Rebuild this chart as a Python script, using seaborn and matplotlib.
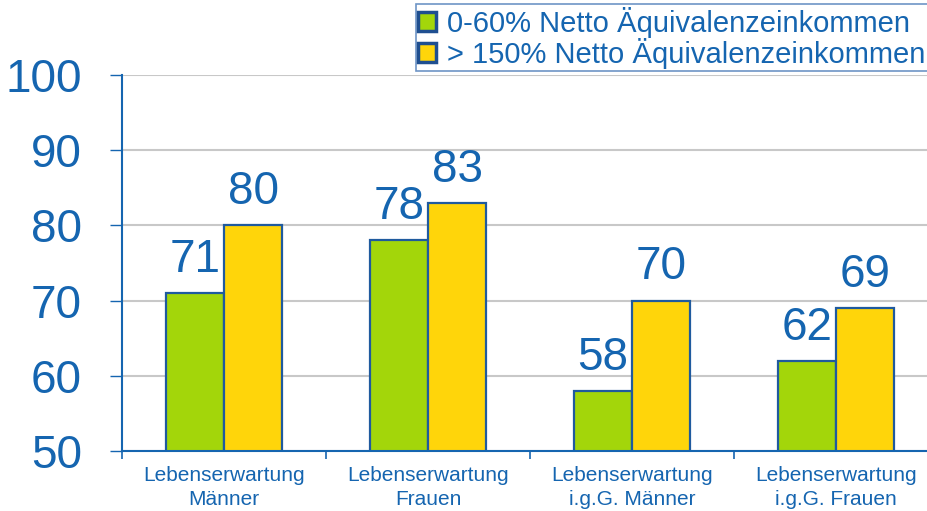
import matplotlib
matplotlib.use("Agg")
import matplotlib.pyplot as plt
import seaborn as sns
import pandas as pd
from matplotlib.patches import Patch

categories = ["Lebenserwartung\nMänner", "Lebenserwartung\nFrauen",
              "Lebenserwartung\ni.g.G. Männer", "Lebenserwartung\ni.g.G. Frauen"]
series_names = ["0-60% Netto Äquivalenzeinkommen", "> 150% Netto Äquivalenzeinkommen"]
low_income = [71, 78, 58, 62]
high_income = [80, 83, 70, 69]
y_ticks = [50, 60, 70, 80, 90, 100]

colors = ["#A3D60A", "#FFD50A"]
blue = "#1565B0"
edge = "#1F5A9E"

df = pd.DataFrame({
    "cat": categories * 2,
    "val": low_income + high_income,
    "series": [series_names[0]] * 4 + [series_names[1]] * 4,
})

sns.set_theme(style="white")
plt.rcParams["font.family"] = ["Liberation Sans", "DejaVu Sans"]

fig = plt.figure(figsize=(9.28, 5.11), dpi=100)
ax = fig.add_axes([122 / 928, 1 - 451 / 511, 816 / 928, 376 / 511])

sns.barplot(data=df, x="cat", y="val", hue="series", palette=colors,
            width=0.573, edgecolor=edge, linewidth=1.6, ax=ax, legend=False,
            saturation=1)

ax.set_ylim(50, 100)
ax.set_xlim(-0.5, 3.5)
ax.set_yticks(y_ticks)
ax.set_yticklabels([str(t) for t in y_ticks], fontsize=33, color=blue)
ax.yaxis.grid(True, color="#C8C8C8", linewidth=1.5)
ax.set_axisbelow(True)
ax.set_xlabel("")
ax.set_ylabel("")

ax.set_xticks(range(4))
ax.set_xticklabels(categories, fontsize=15, color=blue, linespacing=1.3)
ax.tick_params(axis="x", length=0, pad=11)
ax.tick_params(axis="y", length=9, width=1.0, color=blue, pad=20, direction="out", left=True)

ax.set_xticks([-0.5, 0.5, 1.5, 2.5], minor=True)
ax.tick_params(axis="x", which="minor", length=6, width=1.2, color=blue, bottom=True)

for s in ["top", "right"]:
    ax.spines[s].set_visible(False)
for s in ["left", "bottom"]:
    ax.spines[s].set_color(blue)
    ax.spines[s].set_linewidth(1.5)

for cont in ax.containers:
    ax.bar_label(cont, labels=[f"{int(v)}" for v in cont.datavalues],
                 fontsize=33, color=blue, padding=8)

handles = [Patch(facecolor=c, edgecolor="#1F4F90", linewidth=2.5) for c in colors]
leg = fig.legend(handles, series_names, loc="upper right",
                 bbox_to_anchor=(1.008, 1.006), fontsize=21, frameon=True,
                 handlelength=0.6, handleheight=0.6, handletextpad=0.4,
                 labelspacing=0.0, borderpad=0.08, borderaxespad=0.25,
                 fancybox=False, labelcolor=blue)
leg.get_frame().set_edgecolor("#4A7AB8")
leg.get_frame().set_linewidth(1.2)

fig.savefig("out.png", dpi=100)
